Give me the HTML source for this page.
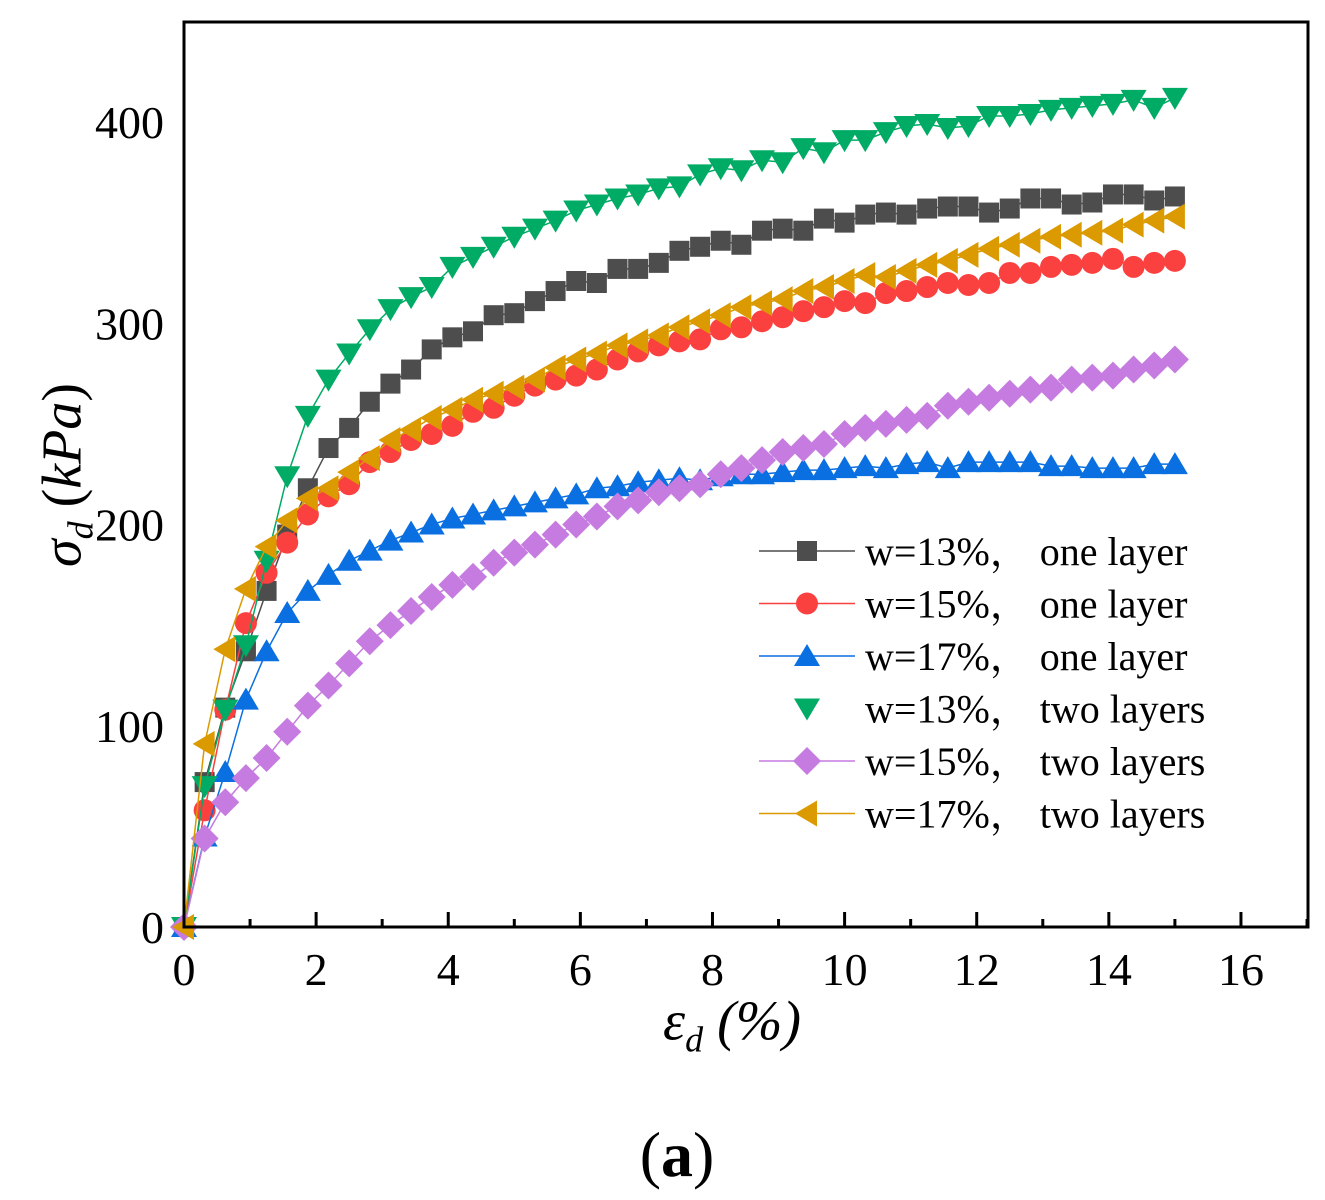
<!DOCTYPE html>
<html><head><meta charset="utf-8"><style>
body{margin:0;background:#fff}
svg{display:block;font-family:"Liberation Serif",serif}
</style></head><body>
<svg id="c" width="1325" height="1200"></svg>
<script>
const strain=[];for(let i=0;i<=48;i++)strain.push(i*0.3125);
const s13one=[0,72,109,137,167,195,218,238,248,261,270,277,287,293,296,304,305,311,316,321,320,327,327,330,336,338,341,339,346,347,346,352,350,354,355,354,357,358,358,355,357,362,362,359,360,364,364,361,363];
const s15one=[0,58,108,151,176,191,205,214,220,231,236,242,245,249,256,258,264,269,272,274,277,282,286,289,291,292,297,298,301,303,306,308,311,310,315,316,318,320,319,320,325,325,328,329,330,332,328,330,331];
const s17one=[0,45,77,113,137,156,167,175,182,187,192,196,200,203,205,207,209,211,213,215,218,219,221,222,223,222,224,225,225,226,227,227,228,229,228,230,231,228,231,231,231,231,229,229,228,228,228,230,230];
const s13two=[0,70,108,140,182,224,254,272,285,297,307,313,318,328,333,338,343,347,351,356,359,362,364,367,368,374,377,376,381,380,387,385,391,391,395,398,399,397,398,403,403,404,406,407,408,409,411,407,412];
const s15two=[0,44,62,74,84,97,110,120,131,142,150,157,164,170,174,181,186,190,195,200,204,209,212,216,218,220,225,228,232,236,238,240,245,248,250,252,254,259,261,263,265,267,268,272,273,274,277,279,282];
const s17two=[0,91,138,168,189,202,213,218,226,233,242,247,253,257,262,265,268,272,278,282,285,289,291,294,298,301,304,308,310,312,316,318,321,324,323,326,329,331,334,337,339,341,343,344,345,346,349,351,353];
const xTicks=[0,2,4,6,8,10,12,14,16];
const yTicks=[0,100,200,300,400];
const names=["w=13%， one layer","w=15%， one layer","w=17%， one layer","w=13%， two layers","w=15%， two layers","w=17%， two layers"];

const L=184,R=1308,T=22,B=927;
const X=v=>L+v*66.06, Y=v=>B-v*2.0125;
const svg=document.getElementById('c');const NS="http://www.w3.org/2000/svg";
function mk(t,a,p){const e=document.createElementNS(NS,t);for(const k in a)e.setAttribute(k,a[k]);(p||svg).appendChild(e);return e;}
function marker(type,x,y,col,g){
 const s=10;let e;
 if(type==='sq')e=mk('rect',{x:x-s,y:y-s,width:2*s,height:2*s,fill:col},g);
 else if(type==='ci')e=mk('circle',{cx:x,cy:y,r:s+1,fill:col},g);
 else if(type==='up')e=mk('polygon',{points:`${x},${y-12} ${x-13},${y+10} ${x+13},${y+10}`,fill:col},g);
 else if(type==='dn')e=mk('polygon',{points:`${x},${y+12} ${x-13},${y-10} ${x+13},${y-10}`,fill:col},g);
 else if(type==='di')e=mk('polygon',{points:`${x},${y-14} ${x+14},${y} ${x},${y+14} ${x-14},${y}`,fill:col},g);
 else e=mk('polygon',{points:`${x-12},${y} ${x+10},${y-13} ${x+10},${y+13}`,fill:col},g);
 
 
}
const series=[
 {d:s13one,c:'#4d4d4d',m:'sq',n:'series-w13-one-layer'},
 {d:s15one,c:'#fb4040',m:'ci',n:'series-w15-one-layer'},
 {d:s17one,c:'#0a6fe0',m:'up',n:'series-w17-one-layer'},
 {d:s13two,c:'#00ab65',m:'dn',n:'series-w13-two-layers'},
 {d:s15two,c:'#c67be0',m:'di',n:'series-w15-two-layers'},
 {d:s17two,c:'#db9a00',m:'le',n:'series-w17-two-layers'}];
series.forEach(s=>{
 const g=mk('g',{});
 
 
 const pl=mk('polyline',{points:s.d.map((v,i)=>X(strain[i])+','+Y(v)).join(' '),fill:'none',stroke:s.c,'stroke-width':1.5},g);
 
 
 s.d.forEach((v,i)=>marker(s.m,X(strain[i]),Y(v),s.c,g));
});
const fr=mk('rect',{x:L,y:T,width:R-L,height:B-T,fill:'none',stroke:'#000','stroke-width':3});


for(let v=0;v<=17;v++){const x=X(v);if(x>R)break;const maj=v%2===0;mk('line',{x1:x,x2:x,y1:B,y2:B-(maj?15:8),stroke:'#000','stroke-width':3});}
xTicks.forEach(v=>{const t=mk('text',{x:X(v),y:985,'font-size':46,'text-anchor':'middle'});t.textContent=v;
 
 });
yTicks.forEach(v=>{const t=mk('text',{x:164,y:Y(v)+16,'font-size':46,'text-anchor':'end'});t.textContent=v;
 
 });
const lg=mk('g',{});


series.forEach((s,i)=>{const y=551+i*52.5;
 if(s.m!=='dn')mk('line',{x1:759,x2:855,y1:y,y2:y,stroke:s.c,'stroke-width':1.5},lg);
 marker(s.m,807,y,s.c,lg);
 const t=mk('text',{x:865,y:y+14,'font-size':40,'font-family':'"Liberation Serif","Noto Serif CJK SC",serif'},lg);t.textContent=names[i];
 
 });
</script>
<div style="position:absolute;left:66px;top:475px;transform:translate(-50%,-50%) rotate(-90deg);font:italic 56px 'Liberation Serif',serif;white-space:nowrap">σ<sub style="font-size:36px">d</sub> <span style="font-style:normal">(</span><i>kPa</i><span style="font-style:normal">)</span></div>
<div style="position:absolute;left:732px;top:1025px;transform:translate(-50%,-50%);font:italic 56px 'Liberation Serif',serif;white-space:nowrap">ε<sub style="font-size:36px">d</sub> <i>(%)</i></div>
<div style="position:absolute;left:677px;top:1155px;transform:translate(-50%,-50%);font:64px 'Liberation Serif',serif;white-space:nowrap">(<b>a</b>)</div>
</body></html>
